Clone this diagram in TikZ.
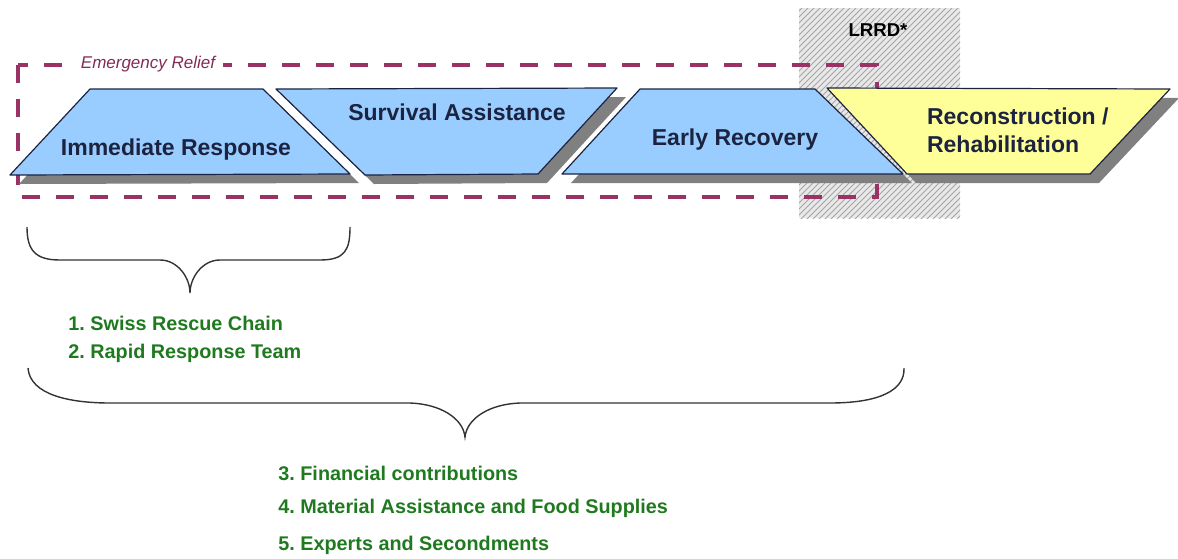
\documentclass[tikz,border=0pt]{standalone}
\usepackage{fontspec}
\setmainfont{Liberation Sans}
\usetikzlibrary{patterns}
\frenchspacing
\definecolor{phaseblue}{HTML}{99CCFF}
\definecolor{phaseyellow}{HTML}{FFFF99}
\definecolor{relief}{HTML}{993366}
\definecolor{toolgreen}{HTML}{1F7A1F}
\definecolor{edgeblue}{HTML}{1C2340}
\begin{document}
\begin{tikzpicture}[x=0.5pt,y=-0.5pt,
	phase/.style={draw=edgeblue, line width=0.6pt, line join=round},
	shade/.style={fill=black!50},
	title/.style={font=\fontsize{11.5}{14}\selectfont\bfseries, text=edgeblue},
	tool/.style={font=\fontsize{9.9}{11}\selectfont\bfseries, text=toolgreen, anchor=west, inner sep=0pt},
	bracket/.style={draw=black!80, line width=0.7pt}]
	\useasboundingbox (0,0) rectangle (1178,558);
	% LRRD
	\fill [black!9] (799,8) rectangle (960,218);
	\fill [pattern=north east lines, pattern color=black!35] (799,8) rectangle (960,218);
	\node [font=\fontsize{9.3}{11}\selectfont\bfseries] (lrrd) at (878,30) {LRRD*};
	% Emergency relief
	\draw [relief, line width=2pt, dash pattern=on 9pt off 8pt] (18,65) rectangle (877,197);
	\node [fill=white, text=relief!85!black, inner xsep=4pt, inner ysep=2pt, font=\fontsize{8.5}{10}\selectfont\itshape] (emerg) at (148,64) {Emergency Relief};
	% Shadows
	\fill [shade, shift={(9,9)}] (90,89) -- (263,89) -- (350,174) -- (10,175) -- cycle;
	\fill [shade, shift={(9,9)}] (276,89) -- (617,88) -- (538,174) -- (365,175) -- cycle;
	\fill [shade, shift={(9,9)}] (640,89) -- (815,89) -- (903,174) -- (562,174) -- cycle;
	\fill [shade, shift={(9,9)}] (827,88) -- (1170,89) -- (1090,174) -- (907,174) -- cycle;
	% Phases
	\filldraw [phase, fill=phaseblue] (90,89) -- (263,89) -- (350,174) -- (10,175) -- cycle;
	\filldraw [phase, fill=phaseblue] (276,89) -- (617,88) -- (538,174) -- (365,175) -- cycle;
	\filldraw [phase, fill=phaseblue] (640,89) -- (815,89) -- (903,174) -- (562,174) -- cycle;
	\filldraw [phase, fill=phaseyellow] (827,88) -- (1170,89) -- (1090,174) -- (907,174) -- cycle;
	\node [title] (imm) at (176,150) {Immediate Response};
	\node [title] (surv) at (457,112) {Survival Assistance};
	\node [title] (early) at (735,140) {Early Recovery};
	\node [title, anchor=west, align=left] (recon) at (920,130) {Reconstruction /\\Rehabilitation};
	% Braces
	\draw [bracket] (27,227) .. controls (27,250) and (35,260) .. (60,260) -- (160,260)
		.. controls (178,260) and (190,278) .. (190,293)
		.. controls (190,278) and (202,260) .. (220,260) -- (320,260)
		.. controls (345,260) and (350,250) .. (350,227);
	\draw [bracket] (28,368) .. controls (30,395) and (70,403) .. (110,403) -- (410,403)
		.. controls (440,404) and (463,418) .. (465,437)
		.. controls (467,418) and (490,404) .. (520,403) -- (830,403)
		.. controls (880,403) and (905,390) .. (904,368);
	% Instruments
	\node [tool] (swiss) at (68,323) {1. Swiss Rescue Chain};
	\node [tool] (rapid) at (68,353) {2. Rapid Response Team};
	\node [tool] (fin) at (278,473) {3. Financial contributions};
	\node [tool] (mat) at (278,508) {4. Material Assistance and Food Supplies};
	\node [tool] (exp) at (278,545) {5. Experts and Secondments};
\end{tikzpicture}
\end{document}
